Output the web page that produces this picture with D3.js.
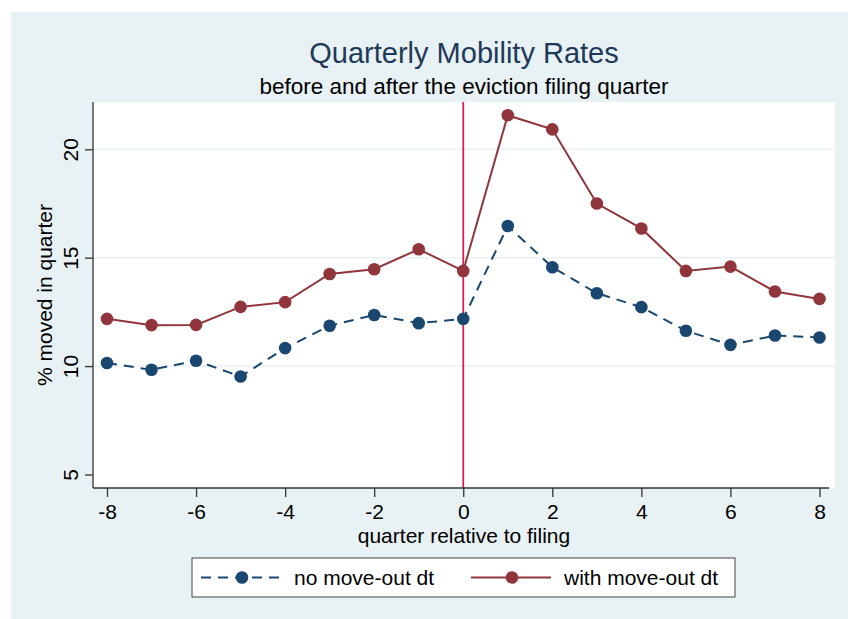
<!DOCTYPE html>
<html>
<head>
<meta charset="utf-8">
<script src="https://cdn.jsdelivr.net/npm/d3@7"></script>
<style>
  body { margin: 0; background: #ffffff; }
  svg { display: block; font-family: "Liberation Sans", Arial, sans-serif; }
</style>
</head>
<body>
<svg></svg>
<script>
var width = 848;
var height = 619;

// Data
var quarters = [-8, -7, -6, -5, -4, -3, -2, -1, 0, 1, 2, 3, 4, 5, 6, 7, 8];
var noMoveOut = [10.14, 9.83, 10.25, 9.52, 10.83, 11.86, 12.36, 11.98, 12.18,
                 16.46, 14.56, 13.36, 12.72, 11.63, 10.98, 11.41, 11.32];
var withMoveOut = [12.18, 11.89, 11.90, 12.73, 12.95, 14.25, 14.47, 15.39, 14.39,
                   21.57, 20.92, 17.50, 16.35, 14.39, 14.59, 13.44, 13.10];
var xTicks = [-8, -6, -4, -2, 0, 2, 4, 6, 8];
var yTicks = [5, 10, 15, 20];
var gridTicks = [10, 15, 20];
var seriesNames = ['no move-out dt', 'with move-out dt'];

var navy = '#1a476f';
var maroon = '#90353b';
var bg = '#e8f1f3';

// plot region
var plotLeft = 93, plotRight = 835, plotTop = 102, plotBottom = 488;

var xScale = d3.scaleLinear()
                .domain([-8, 8])
                .range([107, 819.5]);

var yScale = d3.scaleLinear()
                .domain([5, 20])
                .range([474.5, 149.3]);

var svg = d3.select('svg')
    .attr('width', width)
    .attr('height', height);

// outer background
svg.append('rect')
    .attr('x', 11)
    .attr('y', 12)
    .attr('width', width - 11)
    .attr('height', height - 12)
    .attr('fill', bg);

// plot background
svg.append('rect')
    .attr('x', plotLeft)
    .attr('y', plotTop)
    .attr('width', plotRight - plotLeft)
    .attr('height', plotBottom - plotTop)
    .attr('fill', '#ffffff');

// gridlines
svg.append('g')
    .selectAll('line')
    .data(gridTicks)
    .enter()
    .append('line')
        .attr('x1', plotLeft)
        .attr('x2', plotRight)
        .attr('y1', d => yScale(d))
        .attr('y2', d => yScale(d))
        .attr('stroke', bg)
        .attr('stroke-width', 1.5);

// vertical line at filing quarter
svg.append('line')
    .attr('x1', xScale(0))
    .attr('x2', xScale(0))
    .attr('y1', plotTop)
    .attr('y2', plotBottom)
    .attr('stroke', '#dc1f52')
    .attr('stroke-width', 1.8);

// Axes

var yAxis = d3.axisLeft(yScale)
              .tickValues(yTicks)
              .tickSize(8)
              .tickFormat(d3.format('d'));

var xAxis = d3.axisBottom(xScale)
              .tickValues(xTicks)
              .tickSize(9)
              .tickPadding(7)
              .tickFormat(d => d < 0 ? '-' + Math.abs(d) : d);

var gy = svg.append('g')
    .attr('transform', 'translate(' + plotLeft + ',0)')
    .call(yAxis);
gy.select('.domain').remove();
gy.selectAll('line').attr('stroke', '#333').attr('stroke-width', 1.3);
gy.selectAll('text')
    .attr('transform', 'rotate(-90)')
    .attr('x', 0)
    .attr('y', -15)
    .attr('dy', 0)
    .style('text-anchor', 'middle')
    .style('font-size', '21px')
    .style('font-family', '"Liberation Sans", Arial, sans-serif')
    .attr('fill', '#000');

var gx = svg.append('g')
    .attr('transform', 'translate(0,' + plotBottom + ')')
    .call(xAxis);
gx.select('.domain').remove();
gx.selectAll('line').attr('stroke', '#333').attr('stroke-width', 1.3);
gx.selectAll('text')
    .style('font-size', '21px')
    .style('font-family', '"Liberation Sans", Arial, sans-serif')
    .attr('fill', '#000');

// axis lines
svg.append('line')
    .attr('x1', plotLeft).attr('x2', plotLeft)
    .attr('y1', plotTop).attr('y2', plotBottom)
    .attr('stroke', '#333').attr('stroke-width', 1.3);
svg.append('line')
    .attr('x1', plotLeft).attr('x2', plotRight - 6)
    .attr('y1', plotBottom).attr('y2', plotBottom)
    .attr('stroke', '#333').attr('stroke-width', 1.3);

// Lines and markers

var line = d3.line()
    .x((d, i) => xScale(quarters[i]))
    .y(d => yScale(d));

svg.append('path')
    .datum(noMoveOut)
    .attr('d', line)
    .attr('fill', 'none')
    .attr('stroke', navy)
    .attr('stroke-width', 2)
    .attr('stroke-dasharray', '10,7');

svg.append('path')
    .datum(withMoveOut)
    .attr('d', line)
    .attr('fill', 'none')
    .attr('stroke', maroon)
    .attr('stroke-width', 2);

svg.append('g')
    .selectAll('circle')
    .data(withMoveOut)
    .enter()
    .append('circle')
        .attr('cx', (d, i) => xScale(quarters[i]))
        .attr('cy', d => yScale(d))
        .attr('r', 6.3)
        .attr('fill', maroon);

svg.append('g')
    .selectAll('circle')
    .data(noMoveOut)
    .enter()
    .append('circle')
        .attr('cx', (d, i) => xScale(quarters[i]))
        .attr('cy', d => yScale(d))
        .attr('r', 6.3)
        .attr('fill', navy);

// Text

svg.append('text')
    .attr('x', (plotLeft + plotRight) / 2)
    .attr('y', 63)
    .style('font-size', '29px')
    .style('text-anchor', 'middle')
    .attr('fill', '#1e3a5a')
    .text('Quarterly Mobility Rates');

svg.append('text')
    .attr('x', (plotLeft + plotRight) / 2)
    .attr('y', 94)
    .style('font-size', '22.5px')
    .style('text-anchor', 'middle')
    .text('before and after the eviction filing quarter');

svg.append('text')
    .attr('x', (plotLeft + plotRight) / 2)
    .attr('y', 543)
    .style('font-size', '21px')
    .style('text-anchor', 'middle')
    .text('quarter relative to filing');

svg.append('text')
    .attr('transform', 'rotate(-90)')
    .attr('x', -(plotTop + plotBottom) / 2)
    .attr('y', 52)
    .style('font-size', '21px')
    .style('text-anchor', 'middle')
    .text('% moved in quarter');

// Legend

var legend = svg.append('g');

legend.append('rect')
    .attr('x', 192)
    .attr('y', 558)
    .attr('width', 543)
    .attr('height', 39)
    .attr('fill', '#ffffff')
    .attr('stroke', '#444')
    .attr('stroke-width', 1);

var legendItems = [
    {name: seriesNames[0], color: navy, dash: '10,7', x: 201},
    {name: seriesNames[1], color: maroon, dash: null, x: 471}
];

legendItems.forEach(function(item) {
    legend.append('line')
        .attr('x1', item.x)
        .attr('x2', item.x + 80)
        .attr('y1', 577.5)
        .attr('y2', 577.5)
        .attr('stroke', item.color)
        .attr('stroke-width', 2)
        .attr('stroke-dasharray', item.dash);
    legend.append('circle')
        .attr('cx', item.x + 41)
        .attr('cy', 577.5)
        .attr('r', 6.3)
        .attr('fill', item.color);
    legend.append('text')
        .attr('x', item.x + 93)
        .attr('y', 585)
        .style('font-size', '21px')
        .text(item.name);
});
</script>
</body>
</html>
